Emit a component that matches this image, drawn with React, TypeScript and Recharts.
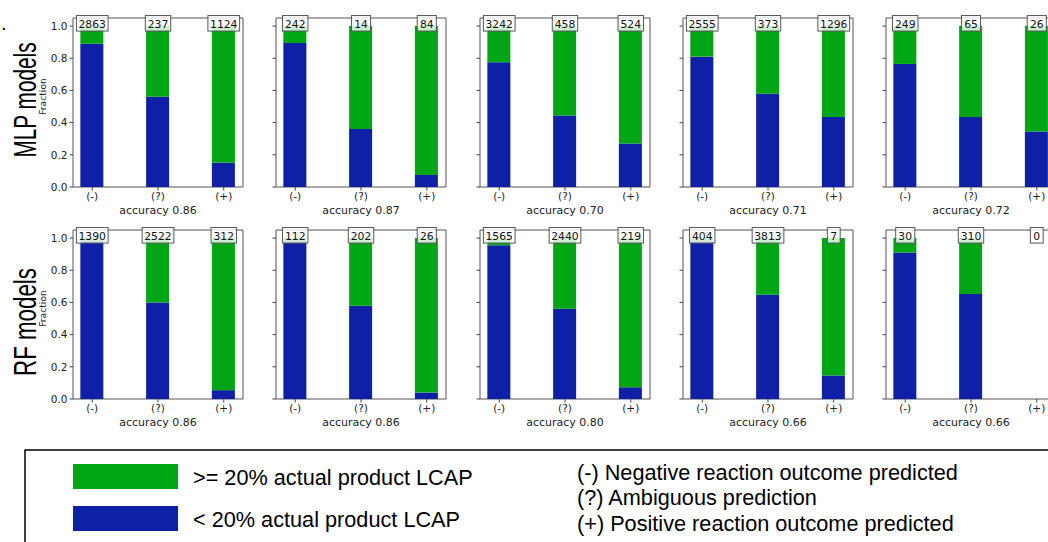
import React from 'react';
import { BarChart, Bar, XAxis, YAxis, ReferenceArea, ReferenceDot } from 'recharts';

// x categories and y ticks shared by all panels
const categories = ['(-)', '(?)', '(+)'];
const categoryPos = [0, 1, 2];
const yTicks = [0, 0.2, 0.4, 0.6, 0.8, 1.0];

// MLP models (top row): fraction < 20% (blue), fraction >= 20% (green), counts
const mlpLow = [
  [0.89, 0.56, 0.15],
  [0.895, 0.36, 0.075],
  [0.775, 0.445, 0.27],
  [0.81, 0.58, 0.435],
  [0.765, 0.435, 0.345],
];
const mlpHigh = [
  [0.11, 0.44, 0.85],
  [0.105, 0.64, 0.925],
  [0.225, 0.555, 0.73],
  [0.19, 0.42, 0.565],
  [0.235, 0.565, 0.655],
];
const mlpCounts = [
  [2863, 237, 1124],
  [242, 14, 84],
  [3242, 458, 524],
  [2555, 373, 1296],
  [249, 65, 26],
];
const mlpAccuracy = ['0.86', '0.87', '0.70', '0.71', '0.72'];

// RF models (bottom row)
const rfLow = [
  [0.98, 0.6, 0.055],
  [0.98, 0.58, 0.04],
  [0.955, 0.56, 0.073],
  [0.98, 0.648, 0.146],
  [0.91, 0.652, 0],
];
const rfHigh = [
  [0.02, 0.4, 0.945],
  [0.02, 0.42, 0.96],
  [0.045, 0.44, 0.927],
  [0.02, 0.352, 0.854],
  [0.09, 0.348, 0],
];
const rfCounts = [
  [1390, 2522, 312],
  [112, 202, 26],
  [1565, 2440, 219],
  [404, 3813, 7],
  [30, 310, 0],
];
const rfAccuracy = ['0.86', '0.86', '0.80', '0.66', '0.66'];

const GREEN = '#00A614';
const BLUE = '#0D20A6';
const FONT = '"DejaVu Sans", sans-serif';
const ARIAL = '"Liberation Sans", Arial, sans-serif';

// layout
const PLOT_W = 170;
const PLOT_H = 169;
const Y_AXIS_W = 40;
const TOP_M = 20;
const RIGHT_M = 10;
const X_AXIS_H = 40;
const colLeft = [73, 276, 480, 683, 886];
const rowTop = [18, 230];

const CountBox = ({ cx, cy, value }: any) => {
  const w = String(value).length * 6.3 + 6.5;
  return (
    <g>
      <rect x={cx - w / 2} y={cy - 10.5} width={w} height={15.5} fill="#fff" fillOpacity={0.8} stroke="#555" strokeWidth={1} />
      <text x={cx} y={cy + 1.5} textAnchor="middle" fontSize={10.8} fontFamily={FONT} fill="#111">
        {value}
      </text>
    </g>
  );
};

// big rotated row title, squeezed like the original
const RowTitle = ({ x, y, text, squeeze }: any) => (
  <g transform={`translate(${x} ${y}) rotate(-90) scale(${squeeze} 1)`}>
    <text x={0} y={0} textAnchor="middle" fontSize={31} fontFamily={ARIAL} fill="#000">
      {text}
    </text>
  </g>
);

interface PanelProps {
  low: number[];
  high: number[];
  counts: number[];
  accuracy: string;
  showYLabels: boolean;
  left: number;
  top: number;
}

const Panel = ({ low, high, counts, accuracy, showYLabels, left, top }: PanelProps) => {
  const data = categoryPos.map((x, i) => ({ x, low: low[i], high: high[i] }));
  return (
    <div style={{ position: 'absolute', left: left - Y_AXIS_W, top: top - TOP_M }}>
      <BarChart
        width={Y_AXIS_W + PLOT_W + RIGHT_M}
        height={TOP_M + PLOT_H + X_AXIS_H}
        data={data}
        margin={{ top: TOP_M, right: RIGHT_M, left: 0, bottom: 0 }}
      >
        <XAxis
          dataKey="x"
          type="number"
          domain={[-0.2925, 2.2925]}
          allowDataOverflow
          ticks={categoryPos}
          interval={0}
          tickFormatter={(v: number) => categories[v]}
          tickSize={3.5}
          height={X_AXIS_H}
          axisLine={false}
          tickLine={{ stroke: '#444' }}
          tick={{ fontSize: 10.5, fill: '#222', fontFamily: FONT }}
          label={({ viewBox }: any) => (
            <text
              x={viewBox.x + viewBox.width / 2}
              y={viewBox.y + 27}
              textAnchor="middle"
              fontSize={11}
              fontFamily={FONT}
              fill="#222"
            >
              {`accuracy ${accuracy}`}
            </text>
          )}
        />
        <YAxis
          type="number"
          domain={[0, 1.05]}
          allowDataOverflow
          ticks={yTicks}
          interval={0}
          tickFormatter={(v: number) => (showYLabels ? v.toFixed(1) : '')}
          tickSize={3.5}
          width={Y_AXIS_W}
          axisLine={false}
          tickLine={{ stroke: '#444' }}
          tick={{ fontSize: 10.5, fill: '#222', fontFamily: FONT }}
          label={
            showYLabels
              ? () => (
                  <g transform={`translate(12.5 ${TOP_M + PLOT_H / 2 - 6}) rotate(-90)`}>
                    <text x={0} y={0} textAnchor="middle" fontSize={9.2} fontFamily={FONT} fill="#222">
                      Fraction
                    </text>
                  </g>
                )
              : undefined
          }
        />
        <Bar dataKey="low" stackId="s" fill={BLUE} barSize={23} isAnimationActive={false} />
        <Bar dataKey="high" stackId="s" fill={GREEN} barSize={23} isAnimationActive={false} />
        <ReferenceArea
          x1={-0.2925}
          x2={2.2925}
          y1={0}
          y2={1.05}
          fill="none"
          stroke="#555"
          strokeWidth={1}
          ifOverflow="visible"
        />
        {counts.map((c, i) => (
          <ReferenceDot
            key={i}
            x={categoryPos[i]}
            y={1}
            r={0}
            ifOverflow="visible"
            shape={(p: any) => <CountBox cx={p.cx} cy={p.cy} value={c} />}
          />
        ))}
      </BarChart>
    </div>
  );
};

const App = () => {
  return (
    <div
      style={{
        position: 'absolute',
        left: 0,
        top: 0,
        width: 1048,
        height: 542,
        overflow: 'hidden',
        background: '#fff',
        fontFamily: FONT,
      }}
    >
      {mlpLow.map((low, j) => (
        <Panel
          key={`mlp-${j}`}
          low={low}
          high={mlpHigh[j]}
          counts={mlpCounts[j]}
          accuracy={mlpAccuracy[j]}
          showYLabels={j === 0}
          left={colLeft[j]}
          top={rowTop[0]}
        />
      ))}
      {rfLow.map((low, j) => (
        <Panel
          key={`rf-${j}`}
          low={low}
          high={rfHigh[j]}
          counts={rfCounts[j]}
          accuracy={rfAccuracy[j]}
          showYLabels={j === 0}
          left={colLeft[j]}
          top={rowTop[1]}
        />
      ))}

      <svg width={1048} height={542} style={{ position: 'absolute', left: 0, top: 0, pointerEvents: 'none' }}>
        <text x={1} y={30} fontSize={20} fontFamily={ARIAL} fill="#000">.</text>
        <RowTitle x={36} y={100} text="MLP models" squeeze={0.67} />
        <RowTitle x={36} y={322} text="RF models" squeeze={0.72} />

        <rect x={25} y={450} width={1040} height={110} fill="none" stroke="#000" strokeWidth={1.5} />
        <rect x={73} y={464} width={105} height={25} fill={GREEN} />
        <rect x={73} y={506} width={105} height={25} fill={BLUE} />
        <g fontFamily={ARIAL} fontSize={21.7} fill="#000">
          <text x={193} y={484.5}>{'>= 20% actual product LCAP'}</text>
          <text x={193} y={526.7}>{'< 20% actual product LCAP'}</text>
          <text x={577} y={479.5}>(-) Negative reaction outcome predicted</text>
          <text x={577} y={504.5}>(?) Ambiguous prediction</text>
          <text x={577} y={531}>(+) Positive reaction outcome predicted</text>
        </g>
      </svg>
    </div>
  );
};

export default App;
